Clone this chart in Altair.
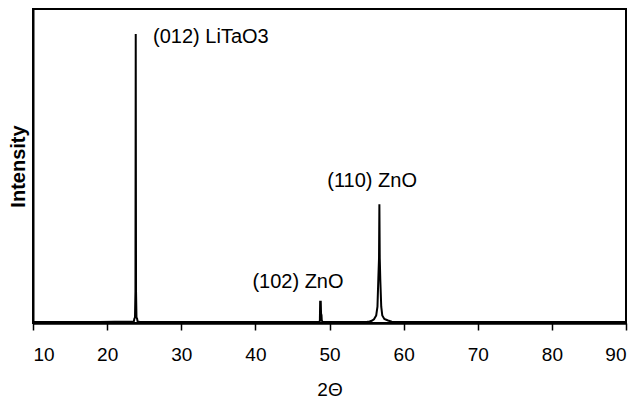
import altair as alt
import pandas as pd

# 2-theta positions and intensities (arbitrary units)
two_theta = [10, 13, 16, 19, 21, 22.5, 23.45, 23.6, 23.68, 23.76, 23.82, 23.86, 23.9, 23.96, 24.04, 24.11, 24.35,
             26, 29, 33, 37, 41, 45, 47.5, 48.6, 48.7, 48.74, 48.77, 48.82, 48.86, 48.92, 48.96, 49.05, 49.4,
             51, 53.5, 55.1, 55.4, 55.7, 56.0, 56.3, 56.47, 56.6, 56.68, 56.73, 56.78, 56.85, 56.98, 57.12,
             57.4, 57.9, 58.4, 59, 62, 66, 70, 74, 78, 82, 86, 90]
intensity = [3, 3, 3, 3, 4, 4, 4, 5, 14, 18, 100, 920, 100, 18, 14, 5, 4,
             3, 3, 3, 3, 3, 3, 3, 4, 6, 68, 68, 68, 30, 25, 8, 4, 3,
             3, 3, 4, 5, 7, 12, 24, 52, 150, 206, 378, 206, 140, 52, 24,
             13, 8, 4, 3, 3, 3, 3, 3, 3, 3, 3, 3]

labels = ["(012) LiTaO3", "(102) ZnO", "(110) ZnO"]
label_x = [26.2, 39.6, 49.7]
label_y = [911, 132, 451]

df = pd.DataFrame({"t": two_theta, "i": intensity})
lab = pd.DataFrame({"x": label_x, "y": label_y, "text": labels})

FONT = "Liberation Sans"

xs = alt.Scale(domain=[10, 90], nice=False)
ys = alt.Scale(domain=[0, 1000], nice=False)

line = alt.Chart(df).mark_line(color="black", strokeWidth=2).encode(
    x=alt.X("t:Q", scale=xs, title="2Θ",
            axis=alt.Axis(values=[10, 20, 30, 40, 50, 60, 70, 80, 90], grid=False,
                          tickSize=7, tickWidth=1.5, tickColor="black",
                          domainColor="black", domainWidth=2.5,
                          labelFont=FONT, labelFontSize=19, labelColor="black", labelPadding=15,
                          titleFont=FONT, titleFontSize=19, titleFontWeight="normal",
                          titleColor="black", titlePadding=16)),
    y=alt.Y("i:Q", scale=ys, title="Intensity",
            axis=alt.Axis(labels=False, ticks=False, grid=False,
                          domainColor="black", domainWidth=2,
                          titleFont=FONT, titleFontSize=20, titleFontWeight="bold",
                          titleColor="black", titlePadding=5)),
    order="t:Q",
)

text = alt.Chart(lab).mark_text(align="left", baseline="middle", font=FONT,
                                fontSize=20, color="black").encode(
    x=alt.X("x:Q", scale=xs),
    y=alt.Y("y:Q", scale=ys),
    text="text:N",
)

chart = alt.layer(line, text).properties(
    width=593, height=314, background="white",
    padding={"left": 0, "top": 1, "right": 0, "bottom": 0},
).configure_view(stroke="black", strokeWidth=2)

chart.save("out.html", embed_options={"renderer": "svg", "actions": False})
